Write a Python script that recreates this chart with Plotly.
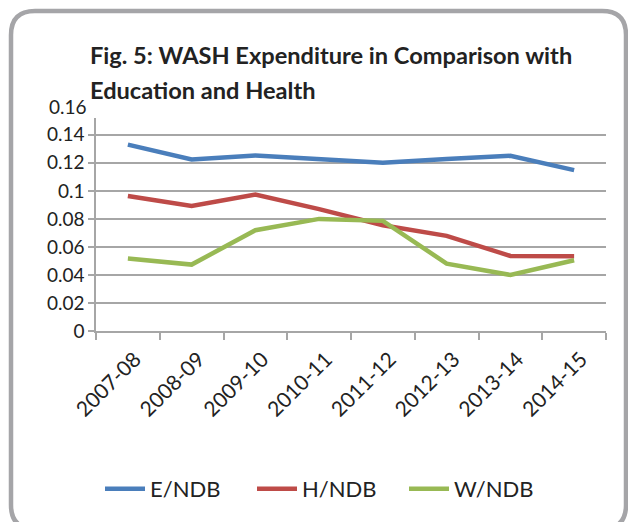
import plotly.graph_objects as go

years = ["2007-08", "2008-09", "2009-10", "2010-11",
         "2011-12", "2012-13", "2013-14", "2014-15"]

e_ndb = [0.133, 0.1224, 0.1253, 0.123, 0.120, 0.1227, 0.125, 0.1148]
h_ndb = [0.0964, 0.0893, 0.0974, 0.087, 0.0755, 0.0679, 0.0536, 0.0534]
w_ndb = [0.0517, 0.0474, 0.0719, 0.080, 0.0786, 0.0481, 0.040, 0.0505]

y_ticks = [0, 0.02, 0.04, 0.06, 0.08, 0.1, 0.12, 0.14]
y_tick_text = ["0", "0.02", "0.04", "0.06", "0.08", "0.1", "0.12", "0.14"]
top_tick = "0.16"

W, H = 628, 522
L, R, T, B = 96, 22, 118, 191

font = "Lato"
grid = "#A6A6A6"


def px(x):
    return (x - L) / (W - L - R)


def py(y):
    return (H - B - y) / (H - T - B)


fig = go.Figure()

fig.add_trace(go.Scatter(name="E/NDB", x=years, y=e_ndb, mode="lines",
                         line=dict(color="#4A7EBB", width=4.5)))
fig.add_trace(go.Scatter(name="H/NDB", x=years, y=h_ndb, mode="lines",
                         line=dict(color="#BE4B48", width=4.5)))
fig.add_trace(go.Scatter(name="W/NDB", x=years, y=w_ndb, mode="lines",
                         line=dict(color="#98B954", width=4.5)))

# rounded outer frame (right and bottom edges run off the page, as in the original)
x0, y0, x1, y1, r = px(11), py(11), px(626), py(529), 24
rx = r / (W - L - R)
ry = r / (H - T - B)
frame = (f"M {x0 + rx},{y0} L {x1 - rx},{y0} Q {x1},{y0} {x1},{y0 - ry} "
         f"L {x1},{y1 + ry} Q {x1},{y1} {x1 - rx},{y1} "
         f"L {x0 + rx},{y1} Q {x0},{y1} {x0},{y1 + ry} "
         f"L {x0},{y0 - ry} Q {x0},{y0} {x0 + rx},{y0} Z")
fig.add_shape(type="path", path=frame, xref="paper", yref="paper",
              line=dict(color="#A5A5A8", width=4.5), layer="below")

title_font = dict(family=font, size=23.6, color="#222222")
fig.add_annotation(text="<b>Fig. 5: WASH Expenditure in Comparison with</b>",
                   xref="paper", yref="paper", x=px(88), y=py(55),
                   xanchor="left", yanchor="middle", showarrow=False, font=title_font)
fig.add_annotation(text="<b>Education and Health</b>",
                   xref="paper", yref="paper", x=px(88), y=py(90),
                   xanchor="left", yanchor="middle", showarrow=False, font=title_font)

fig.add_annotation(text=top_tick, xref="paper", yref="paper", x=px(89), y=py(107),
                   xanchor="right", yanchor="middle", showarrow=False,
                   font=dict(family=font, size=19, color="#222222"))

fig.update_layout(
    width=W, height=H,
    margin=dict(l=L, r=R, t=T, b=B, autoexpand=False),
    paper_bgcolor="white", plot_bgcolor="white",
    font=dict(family=font, size=20, color="#222222"),
    showlegend=True,
    legend=dict(orientation="h", x=px(100), xanchor="left", y=py(489), yanchor="middle",
                font=dict(family=font, size=22), entrywidth=97, itemwidth=40),
)

fig.update_xaxes(type="category", range=[-0.5, 7.5], tickangle=-45, automargin=False,
                 showline=True, linecolor=grid, linewidth=1.5,
                 ticks="outside", tickson="boundaries", ticklen=7, tickcolor=grid,
                 tickwidth=1.5, ticklabelstandoff=6, ticklabelshift=7,
                 showgrid=False, tickfont=dict(family=font, size=21))

fig.update_yaxes(range=[0, 0.152], tickvals=y_ticks, ticktext=y_tick_text, automargin=False,
                 showline=True, linecolor=grid, linewidth=1.5,
                 ticks="outside", ticklen=6, tickcolor=grid, tickwidth=1.5,
                 showgrid=True, gridcolor=grid, gridwidth=1.5,
                 zeroline=False, tickfont=dict(family=font, size=19))

fig.write_html("out.html", config={"displayModeBar": False},
               post_script="document.body.style.margin='0';")
